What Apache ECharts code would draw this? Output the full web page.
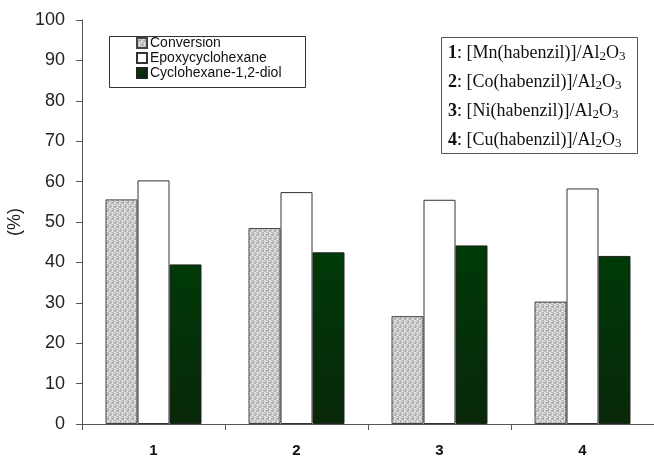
<!DOCTYPE html>
<html>
<head>
<meta charset="utf-8">
<script src="https://cdn.jsdelivr.net/npm/echarts@6/dist/echarts.min.js"></script>
<style>
  html, body { margin: 0; padding: 0; background: #fff; }
  #chart { width: 654px; height: 458px; }
</style>
</head>
<body>
<div id="chart"></div>
<script>
var categories = ['1', '2', '3', '4'];
var conversion = [55.6, 48.5, 26.7, 30.3];
var epoxy = [60.3, 57.4, 55.5, 58.3];
var diol = [39.5, 42.5, 44.2, 41.6];
var yTicks = { min: 0, max: 100, interval: 10 };
var catalysts = [
  ['1', 'Mn'],
  ['2', 'Co'],
  ['3', 'Ni'],
  ['4', 'Cu']
];

// dotted grey pattern for the conversion bars
function dotPattern() {
  var c = document.createElement('canvas');
  c.width = 5;
  c.height = 8;
  var ctx = c.getContext('2d');
  ctx.fillStyle = '#e4e4e4';
  ctx.fillRect(0, 0, 5, 8);
  function dot(x, y) {
    ctx.beginPath();
    ctx.arc(x, y, 1.9, 0, Math.PI * 2);
    ctx.fillStyle = '#a8a8a8';
    ctx.fill();
    ctx.beginPath();
    ctx.arc(x - 0.5, y - 0.5, 0.8, 0, Math.PI * 2);
    ctx.fillStyle = '#f2f2f2';
    ctx.fill();
  }
  dot(2.5, 2);
  dot(0, 6);
  dot(5, 6);
  return c;
}

var chart = echarts.init(document.getElementById('chart'));

var boxTexts = catalysts.map(function (c, i) {
  return {
    type: 'text',
    left: 448,
    top: 44 + i * 29,
    style: {
      text: '{b|' + c[0] + '}: [' + c[1] + '(habenzil)]/Al{s|2}O{s|3}',
      font: '18px "Liberation Serif", "Times New Roman", serif',
      fill: '#111',
      rich: {
        b: { fontWeight: 'bold', fontSize: 18, fontFamily: 'Liberation Serif', fill: '#111' },
        s: { fontSize: 13, fontFamily: 'Liberation Serif', fill: '#111', padding: [8, 0, 0, 0] }
      }
    }
  };
});

var option = {
  animation: false,
  grid: { left: 82, right: 0, top: 20, bottom: 34, containLabel: false, outerBoundsMode: 'none' },
  legend: {
    orient: 'vertical',
    left: 131,
    top: 31,
    itemWidth: 10,
    itemHeight: 10,
    itemGap: 1,
    icon: 'rect',
    textStyle: { fontFamily: 'Liberation Sans, Arial', fontSize: 14, color: '#111', lineHeight: 14, padding: [0, 0, 0, -2] },
    data: ['Conversion', 'Epoxycyclohexane', 'Cyclohexane-1,2-diol']
  },
  xAxis: {
    type: 'category',
    data: categories,
    axisLine: { lineStyle: { color: '#555', width: 1 } },
    axisTick: { show: true, length: 6, lineStyle: { color: '#555' } },
    axisLabel: { fontFamily: 'Liberation Sans, Arial', fontWeight: 'bold', fontSize: 15, color: '#111', margin: 19 }
  },
  yAxis: {
    type: 'value',
    min: yTicks.min,
    max: yTicks.max,
    interval: yTicks.interval,
    name: '(%)',
    nameLocation: 'middle',
    nameRotate: 90,
    nameGap: 56,
    nameTextStyle: { fontFamily: 'Liberation Sans, Arial', fontSize: 18, color: '#222' },
    axisLine: { show: true, lineStyle: { color: '#555', width: 1 } },
    axisTick: { show: true, length: 6, lineStyle: { color: '#555' } },
    splitLine: { show: false },
    axisLabel: { fontFamily: 'Liberation Sans, Arial', fontSize: 18, color: '#222', margin: 17 }
  },
  series: [
    {
      name: 'Conversion',
      type: 'bar',
      data: conversion,
      barWidth: 32,
      barGap: '0%',
      itemStyle: {
        color: { image: dotPattern(), repeat: 'repeat' },
        borderColor: '#444',
        borderWidth: 1
      }
    },
    {
      name: 'Epoxycyclohexane',
      type: 'bar',
      data: epoxy,
      barWidth: 32,
      barGap: '0%',
      itemStyle: { color: '#fff', borderColor: '#333', borderWidth: 1 }
    },
    {
      name: 'Cyclohexane-1,2-diol',
      type: 'bar',
      data: diol,
      barWidth: 32,
      barGap: '0%',
      itemStyle: {
        color: new echarts.graphic.LinearGradient(0, 0, 0, 1, [
          { offset: 0, color: '#003a08' },
          { offset: 1, color: '#082808' }
        ]),
        borderColor: '#222',
        borderWidth: 1
      }
    }
  ],
  graphic: [
    {
      type: 'rect',
      left: 107,
      top: 34,
      shape: { width: 196, height: 51 },
      style: { fill: 'none', stroke: '#333', lineWidth: 1 }
    },
    {
      type: 'rect',
      left: 441,
      top: 37,
      shape: { width: 196, height: 116 },
      style: { fill: '#fff', stroke: '#555', lineWidth: 1 }
    }
  ].concat(boxTexts)
};

chart.setOption(option);
</script>
</body>
</html>
